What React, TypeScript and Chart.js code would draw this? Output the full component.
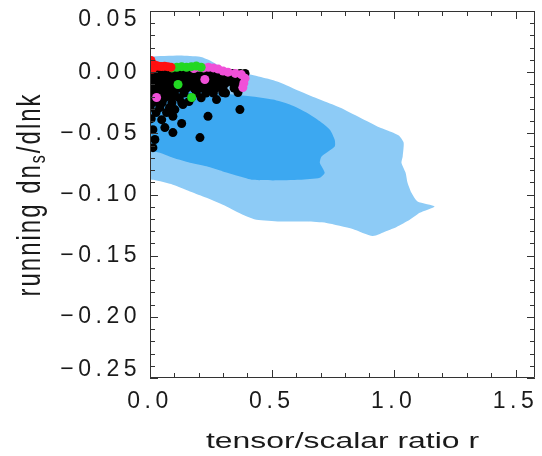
import React, { useEffect, useRef } from "react";
import { Chart, registerables } from "chart.js";

Chart.register(...registerables);

// Axis ranges and labelled tick values
const R_MIN = 0;
const R_MAX = 1.58;
const RUN_MIN = -0.25;
const RUN_MAX = 0.05;
const rTicks = [0, 0.5, 1.0, 1.5];
const runTicks = [-0.25, -0.2, -0.15, -0.1, -0.05, 0, 0.05];

const X_TITLE = "tensor/scalar ratio r";
const Y_TITLE_MAIN = "running dn";
const Y_TITLE_SUB = "s";
const Y_TITLE_END = "/dlnk";

// 95% confidence region (outer contour)
const outerR = [-0.02, 0.0, 0.123, 0.205, 0.246, 0.287, 0.34, 0.41, 0.48, 0.533, 0.615, 0.697, 0.779, 0.861, 0.943, 0.996, 1.025, 1.041, 1.037, 1.032, 1.049, 1.057, 1.073, 1.098, 1.168, 1.107, 1.066, 1.012, 0.971, 0.914, 0.832, 0.724, 0.642, 0.533, 0.437, 0.381, 0.314, 0.232, 0.164, 0.094, 0.014, -0.02];
const outerRun = [0.013, 0.0129, 0.0137, 0.0126, 0.0096, 0.0049, 0.0008, -0.0019, -0.0052, -0.0084, -0.0156, -0.0224, -0.0289, -0.0371, -0.0453, -0.0494, -0.0525, -0.0576, -0.0689, -0.074, -0.0822, -0.0904, -0.0986, -0.1057, -0.1098, -0.115, -0.1207, -0.1265, -0.1298, -0.1339, -0.1281, -0.1232, -0.1221, -0.1221, -0.1207, -0.1166, -0.1098, -0.1027, -0.0975, -0.092, -0.088, -0.0875];

// 68% confidence region (inner contour)
const innerR = [-0.02, 0.205, 0.41, 0.504, 0.574, 0.642, 0.697, 0.738, 0.758, 0.758, 0.704, 0.697, 0.717, 0.697, 0.615, 0.504, 0.422, 0.369, 0.299, 0.232, 0.164, 0.094, 0.041, 0.012, -0.02];
const innerRun = [-0.015, -0.0158, -0.0197, -0.0224, -0.0265, -0.033, -0.0402, -0.047, -0.0552, -0.0607, -0.0689, -0.074, -0.0822, -0.0863, -0.088, -0.0885, -0.088, -0.0852, -0.0811, -0.077, -0.074, -0.0699, -0.0658, -0.0648, -0.064];

// Model predictions
const blackR = [
  0.01, 0.04, 0.07, 0.1, 0.13, 0.16, 0.19, 0.22, 0.25, 0.28, 0.31, 0.34, 0.37, 0.39,
  0.0, 0.03, 0.06, 0.09, 0.12, 0.15, 0.18, 0.21, 0.24, 0.27, 0.3, 0.33, 0.36, 0.385,
  0.01, 0.04, 0.07, 0.1, 0.13, 0.16, 0.19, 0.22, 0.25, 0.28, 0.31, 0.34, 0.37,
  0.0, 0.03, 0.06, 0.09, 0.12, 0.15, 0.18, 0.21, 0.24, 0.27, 0.3, 0.345,
  0.01, 0.04, 0.07, 0.1, 0.14, 0.19, 0.23, 0.26, 0.31,
  0.0, 0.03, 0.06, 0.09, 0.12, 0.17, 0.21,
  0.01, 0.05, 0.09, 0.13,
  0.0, 0.04, 0.08,
  0.369, 0.238, 0.205, 0.094, 0.13, 0.061, 0.048, 0.012, 0.012, 0.273, 0.299, 0.361, 0.068, 0.102, 0.135, 0.041, 0.094, 0.02, 0.005, 0.16, 0.025,
];
const blackRun = [
  -0.001, -0.001, -0.001, -0.001, -0.001, -0.001, -0.001, -0.001, -0.001, -0.001, -0.001, -0.001, -0.001, -0.001,
  -0.005, -0.005, -0.005, -0.005, -0.005, -0.005, -0.005, -0.005, -0.005, -0.005, -0.005, -0.005, -0.005, -0.005,
  -0.009, -0.009, -0.009, -0.009, -0.009, -0.009, -0.009, -0.009, -0.009, -0.009, -0.009, -0.009, -0.009,
  -0.013, -0.013, -0.013, -0.013, -0.013, -0.013, -0.013, -0.013, -0.013, -0.013, -0.013, -0.013,
  -0.017, -0.017, -0.017, -0.017, -0.017, -0.017, -0.017, -0.017, -0.017,
  -0.021, -0.021, -0.021, -0.021, -0.021, -0.021, -0.021,
  -0.025, -0.025, -0.025, -0.025,
  -0.029, -0.029, -0.029,
  -0.0306, -0.0361, -0.0535, -0.0494, -0.042, -0.0453, -0.0388, -0.0617, -0.047, -0.0224, -0.0166, -0.0166, -0.033, -0.0306, -0.0265, -0.0265, -0.036, -0.055, -0.038, -0.024, -0.033,
];
const magentaR = [0.18, 0.2, 0.22, 0.24, 0.26, 0.28, 0.3, 0.32, 0.35, 0.375, 0.39, 0.385, 0.381, 0.027, 0.225];
const magentaRun = [0.003, 0.004, 0.0035, 0.004, 0.0035, 0.0025, 0.001, 0.0, -0.001, -0.002, -0.005, -0.009, -0.0125, -0.0207, -0.006];
const greenR = [0.09, 0.11, 0.13, 0.15, 0.17, 0.19, 0.21, 0.115, 0.171];
const greenRun = [0.0035, 0.004, 0.0045, 0.004, 0.0045, 0.005, 0.004, -0.0101, -0.0207];
const redR = [0.0, 0.008, 0.016, 0.025, 0.035, 0.047, 0.06, 0.073, 0.086, 0.0, 0.01, 0.004];
const redRun = [0.0075, 0.0068, 0.0062, 0.0055, 0.0048, 0.0046, 0.0048, 0.0045, 0.004, 0.003, 0.0025, 0.0095];

const zip = (xs: number[], ys: number[]) => xs.map((x, i) => ({ x, y: ys[i] }));

const FONT = '"Liberation Sans", Arial, sans-serif';
const INK = "#1a1a1a";

// Frame with inward ticks on all four sides, plus axis titles
const framePlugin = {
  id: "frameAndTitles",
  beforeDraw(chart: any) {
    chart.ctx.letterSpacing = "4.5px";
  },
  afterDraw(chart: any) {
    const { ctx, chartArea: a, scales } = chart;
    const xs = scales.x;
    const ys = scales.y;
    ctx.save();
    ctx.strokeStyle = "#333";
    ctx.lineWidth = 1;
    ctx.beginPath();
    ctx.rect(a.left + 0.5, a.top + 0.5, a.right - a.left - 1, a.bottom - a.top - 1);
    ctx.stroke();

    ctx.beginPath();
    for (let i = 0; i <= Math.floor(R_MAX * 10 + 1e-9); i++) {
      const px = Math.round(xs.getPixelForValue(i / 10)) + 0.5;
      const len = i % 5 === 0 ? 8 : 5;
      ctx.moveTo(px, a.bottom);
      ctx.lineTo(px, a.bottom - len);
      ctx.moveTo(px, a.top);
      ctx.lineTo(px, a.top + len);
    }
    for (let i = -25; i <= 5; i++) {
      const py = Math.round(ys.getPixelForValue(i / 100)) + 0.5;
      const len = i % 5 === 0 ? 8 : 5;
      ctx.moveTo(a.left, py);
      ctx.lineTo(a.left + len, py);
      ctx.moveTo(a.right, py);
      ctx.lineTo(a.right - len, py);
    }
    ctx.stroke();

    // x title, drawn wide like the tick labels
    ctx.fillStyle = INK;
    ctx.font = `22px ${FONT}`;
    ctx.letterSpacing = "0px";
    ctx.textAlign = "center";
    ctx.textBaseline = "alphabetic";
    ctx.save();
    ctx.translate((a.left + a.right) / 2, 448);
    ctx.scale(1.45, 1);
    ctx.fillText(X_TITLE, 0, 0);
    ctx.restore();

    // y title with subscript, rotated
    ctx.save();
    ctx.translate(40, (a.top + a.bottom) / 2);
    ctx.rotate(-Math.PI / 2);
    ctx.scale(1, 1.35);
    ctx.letterSpacing = "2px";
    ctx.textAlign = "left";
    const main = `24px ${FONT}`;
    const sub = `16px ${FONT}`;
    ctx.font = main;
    const w1 = ctx.measureText(Y_TITLE_MAIN).width;
    const w3 = ctx.measureText(Y_TITLE_END).width;
    ctx.font = sub;
    const w2 = ctx.measureText(Y_TITLE_SUB).width;
    let x0 = -(w1 + w2 + w3) / 2;
    ctx.font = main;
    ctx.fillText(Y_TITLE_MAIN, x0, 0);
    x0 += w1;
    ctx.font = sub;
    ctx.fillText(Y_TITLE_SUB, x0, 4);
    x0 += w2;
    ctx.font = main;
    ctx.fillText(Y_TITLE_END, x0, 0);
    ctx.restore();

    ctx.restore();
  },
};

const fmtRun = (v: number) => {
  const s = Math.abs(v).toFixed(2);
  return v < -1e-9 ? "\u2212" + s : s;
};

// The end labels sit just inside the frame: pad them with an empty line
const runLabel = (v: number) => {
  const text = fmtRun(v);
  if (Math.abs(v - RUN_MAX) < 1e-9) return ["", text];
  if (Math.abs(v - RUN_MIN) < 1e-9) return [text, ""];
  return text;
};

export default function App() {
  const canvasRef = useRef<HTMLCanvasElement | null>(null);

  useEffect(() => {
    const canvas = canvasRef.current;
    if (!canvas) return;
    const pointStyle = (color: string, order: number, r: number[], run: number[]) => ({
      type: "scatter" as const,
      data: zip(r, run),
      backgroundColor: color,
      borderWidth: 0,
      pointRadius: 4.5,
      pointHoverRadius: 4.5,
      clip: 0,
      order,
    });
    const chart = new Chart(canvas, {
      type: "scatter",
      data: {
        datasets: [
          {
            type: "line",
            data: zip(outerR, outerRun),
            backgroundColor: "#8DCBF6",
            borderColor: "rgba(0,0,0,0)",
            borderWidth: 0,
            pointRadius: 0,
            fill: "shape",
            tension: 0.2,
            clip: 0,
            order: 10,
          } as any,
          {
            type: "line",
            data: zip(innerR, innerRun),
            backgroundColor: "#3CA8F1",
            borderColor: "rgba(0,0,0,0)",
            borderWidth: 0,
            pointRadius: 0,
            fill: "shape",
            tension: 0.2,
            clip: 0,
            order: 9,
          } as any,
          pointStyle("#000000", 8, blackR, blackRun),
          pointStyle("#F050D8", 7, magentaR, magentaRun),
          pointStyle("#22D822", 6, greenR, greenRun),
          pointStyle("#FF1010", 5, redR, redRun),
        ],
      },
      options: {
        responsive: false,
        animation: false,
        events: [],
        layout: { padding: { top: 11, right: 7, left: 0, bottom: 0 } },
        plugins: { legend: { display: false }, tooltip: { enabled: false } },
        scales: {
          x: {
            type: "linear",
            min: R_MIN,
            max: R_MAX,
            grid: { display: false, drawTicks: false },
            border: { display: false },
            afterBuildTicks: (s: any) => {
              s.ticks = rTicks.map((v) => ({ value: v }));
            },
            afterFit: (s: any) => {
              s.height = 78;
              s.paddingLeft = 0;
              s.paddingRight = 0;
            },
            ticks: {
              padding: 10,
              color: INK,
              font: { family: FONT, size: 23 },
              maxRotation: 0,
              callback: (v: any) => Number(v).toFixed(1),
            },
          },
          y: {
            type: "linear",
            min: RUN_MIN,
            max: RUN_MAX,
            grid: { display: false, drawTicks: false },
            border: { display: false },
            afterBuildTicks: (s: any) => {
              s.ticks = runTicks.map((v) => ({ value: v }));
            },
            afterFit: (s: any) => {
              s.width = 150;
              s.paddingTop = 0;
              s.paddingBottom = 0;
            },
            ticks: {
              padding: 9,
              color: INK,
              font: { family: FONT, size: 23, lineHeight: "17px" },
              callback: (v: any) => runLabel(Number(v)),
            },
          },
        },
      },
      plugins: [framePlugin],
    });
    return () => chart.destroy();
  }, []);

  return (
    <div style={{ position: "fixed", left: 0, top: 0, width: 542, height: 456, background: "#fff" }}>
      <canvas ref={canvasRef} width={542} height={456} style={{ display: "block" }} />
    </div>
  );
}
